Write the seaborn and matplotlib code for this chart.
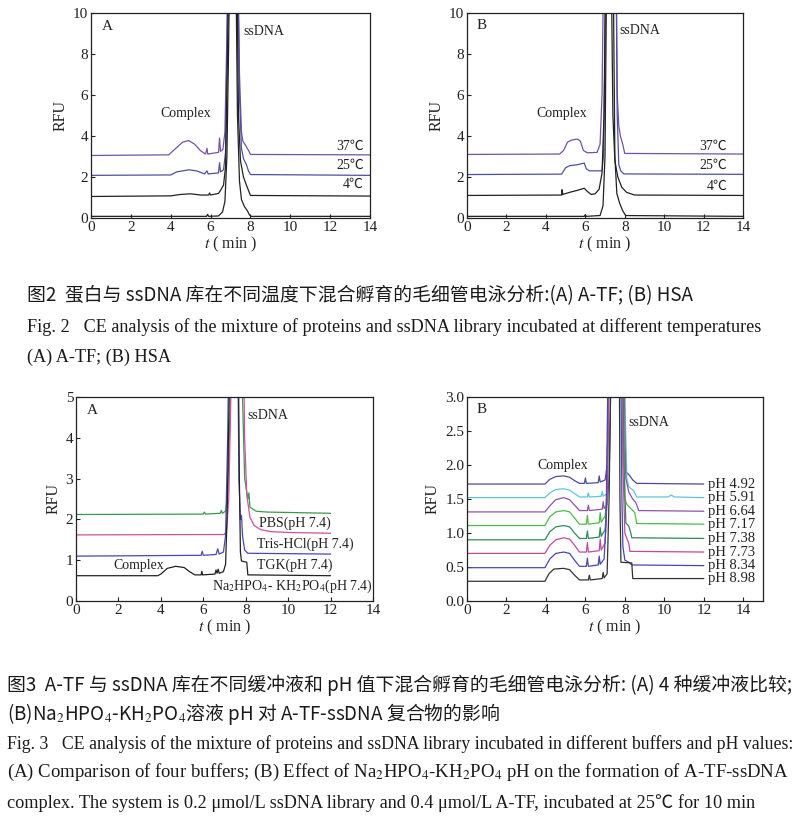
import matplotlib
matplotlib.use('Agg')
import matplotlib.pyplot as plt
import seaborn as sns
import pandas as pd

# ---- Fig.2 A (A-TF), traces as (t, RFU)
fig2a_37 = [(0, 3.05), (3.9, 3.08), (4.2, 3.35), (4.6, 3.7), (4.9, 3.78), (5.2, 3.6), (5.5, 3.28),
            (5.75, 3.12), (5.82, 3.4), (5.86, 3.12), (6.4, 3.2), (6.45, 3.9), (6.5, 3.25), (6.62, 3.35),
            (6.72, 4.2), (6.8, 8.0), (6.9, 14), (7.35, 14), (7.45, 7.0), (7.55, 4.2), (7.62, 3.75),
            (7.75, 3.55), (7.9, 3.3), (8.0, 3.1), (14, 3.08)]
fig2a_25 = [(0, 2.08), (4.0, 2.1), (4.3, 2.25), (4.9, 2.35), (5.3, 2.3), (5.7, 2.15), (5.82, 2.3),
            (5.88, 2.15), (6.4, 2.2), (6.45, 2.7), (6.5, 2.25), (6.65, 2.35), (6.75, 3.2), (6.82, 8),
            (6.92, 14), (7.35, 14), (7.45, 6), (7.55, 3.4), (7.65, 2.9), (7.8, 2.6), (7.9, 2.3),
            (8.0, 2.12), (14, 2.08)]
fig2a_4 = [(0, 1.05), (4.0, 1.08), (4.5, 1.15), (5.0, 1.18), (5.5, 1.12), (5.9, 1.12), (5.95, 1.22),
           (6.0, 1.12), (6.4, 1.2), (6.5, 1.35), (6.65, 1.6), (6.75, 2.5), (6.85, 8), (6.95, 14),
           (7.3, 14), (7.4, 5), (7.5, 2.8), (7.65, 2.0), (7.8, 1.6), (7.9, 1.35), (8.0, 1.1), (14, 1.07)]
fig2a_ctrl = [(0, 0.08), (5.8, 0.08), (5.85, 0.18), (5.9, 0.08), (6.4, 0.1), (6.6, 0.3), (6.72, 0.8),
              (6.82, 3), (6.9, 8), (6.98, 14), (7.25, 14), (7.35, 5), (7.45, 1.8), (7.55, 0.9),
              (7.7, 0.55), (7.85, 0.35), (7.95, 0.15), (8.05, 0.08), (14, 0.08)]

# ---- Fig.2 B (HSA)
fig2b_37 = [(0, 3.1), (4.7, 3.12), (4.9, 3.3), (5.1, 3.7), (5.3, 3.8), (5.6, 3.85), (5.75, 3.75),
            (5.9, 3.3), (6.1, 3.18), (6.6, 3.2), (6.75, 3.6), (6.85, 6), (6.95, 14), (7.55, 14),
            (7.62, 6), (7.7, 4.5), (7.78, 4.0), (7.9, 3.6), (8.0, 3.15), (14, 3.12)]
fig2b_25 = [(0, 2.12), (4.8, 2.14), (5.0, 2.45), (5.2, 2.55), (5.6, 2.6), (5.95, 2.68), (6.05, 2.4),
            (6.2, 2.3), (6.85, 2.3), (6.92, 3), (7.0, 8), (7.05, 14), (7.55, 14), (7.62, 5),
            (7.7, 2.6), (7.8, 2.3), (7.95, 2.15), (14, 2.13)]
fig2b_4 = [(0, 1.1), (4.8, 1.12), (4.82, 1.38), (4.86, 1.15), (5.2, 1.25), (5.6, 1.35), (5.95, 1.45),
           (6.1, 1.3), (6.3, 1.15), (6.5, 1.18), (6.7, 1.4), (6.85, 2.2), (6.95, 5), (7.05, 14),
           (7.3, 14), (7.4, 5), (7.5, 2.8), (7.65, 2.0), (7.85, 1.5), (8.1, 1.25), (8.5, 1.12), (14, 1.1)]
fig2b_ctrl = [(0, 0.08), (5.95, 0.08), (6.0, 0.16), (6.05, 0.08), (6.75, 0.12), (6.9, 0.6), (7.0, 3),
              (7.1, 14), (7.4, 14), (7.5, 3), (7.6, 1.2), (7.75, 0.7), (7.9, 0.35), (8.05, 0.12), (14, 0.08)]
temp_labels = ['37℃', '25℃', '4℃']

# ---- Fig.3 A (buffers)
fig3a_pbs = [(0, 2.12), (6.0, 2.13), (6.05, 2.18), (6.1, 2.13), (6.8, 2.15), (6.85, 2.22), (6.9, 2.15),
             (7.05, 2.2), (7.15, 2.6), (7.28, 5), (7.35, 8), (7.75, 8), (7.85, 5), (7.95, 3.0),
             (8.1, 2.5), (8.15, 2.65), (8.2, 2.3), (8.5, 2.2), (9.0, 2.18), (12, 2.15)]
fig3a_tris = [(0, 1.62), (7.0, 1.63), (7.1, 1.75), (7.2, 2.5), (7.3, 5), (7.4, 8), (7.85, 8), (7.95, 4),
              (8.05, 2.6), (8.2, 2.05), (8.4, 1.85), (8.7, 1.75), (9.2, 1.7), (10, 1.68), (12, 1.66)]
fig3a_tgk = [(0, 1.1), (5.9, 1.12), (5.95, 1.22), (6.0, 1.12), (6.6, 1.14), (6.68, 1.28), (6.75, 1.15),
             (6.95, 1.2), (7.05, 1.6), (7.15, 4), (7.25, 8), (7.6, 8), (7.68, 3), (7.75, 2.0),
             (7.8, 2.1), (7.85, 1.6), (7.95, 1.25), (8.1, 1.17), (12, 1.15)]
fig3a_nap = [(0, 0.62), (3.85, 0.62), (4.0, 0.66), (4.3, 0.8), (4.7, 0.85), (5.1, 0.82), (5.35, 0.72),
             (5.6, 0.64), (5.9, 0.64), (5.93, 0.73), (5.97, 0.64), (6.55, 0.66), (6.6, 0.76), (6.65, 0.68),
             (6.7, 0.78), (6.75, 0.68), (6.95, 0.72), (7.05, 0.9), (7.12, 2.0), (7.22, 5), (7.3, 8),
             (7.62, 8), (7.7, 3), (7.75, 1.2), (7.8, 0.98), (8.05, 0.95), (8.1, 0.64), (12, 0.62)]
buffer_labels = ['PBS(pH 7.4)', 'Tris-HCl(pH 7.4)', 'TGK(pH 7.4)', r'Na$_2$HPO$_4$- KH$_2$PO$_4$(pH 7.4)']

# ---- Fig.3 B (pH series)
ph_labels = ['pH 4.92', 'pH 5.91', 'pH 6.64', 'pH 7.17', 'pH 7.38', 'pH 7.73', 'pH 8.34', 'pH 8.98']
ph_492 = [(0, 1.72), (3.95, 1.72), (4.2, 1.79), (4.5, 1.83), (4.9, 1.84), (5.2, 1.82), (5.45, 1.77),
          (5.7, 1.73), (5.95, 1.73), (6.0, 1.81), (6.05, 1.73), (6.65, 1.74), (6.7, 1.84), (6.75, 1.75),
          (7.0, 1.78), (7.1, 2.0), (7.2, 3.5), (7.3, 5), (7.8, 5), (7.9, 3), (7.98, 2.0), (8.05, 1.9),
          (8.2, 1.86), (8.4, 1.78), (8.6, 1.73), (12, 1.72)]
ph_591 = [(0, 1.52), (3.95, 1.52), (4.2, 1.59), (4.5, 1.64), (4.9, 1.65), (5.2, 1.63), (5.45, 1.58),
          (5.7, 1.53), (6.1, 1.53), (6.15, 1.59), (6.2, 1.53), (6.8, 1.54), (6.85, 1.61), (6.9, 1.54),
          (7.1, 1.58), (7.2, 1.8), (7.3, 3.5), (7.4, 5), (7.9, 5), (8.0, 3), (8.1, 1.8), (8.2, 1.68),
          (8.45, 1.62), (8.6, 1.53), (10.2, 1.53), (10.35, 1.56), (10.5, 1.53), (12, 1.52)]
ph_664 = [(0, 1.31), (3.95, 1.31), (4.2, 1.4), (4.5, 1.49), (4.9, 1.52), (5.2, 1.49), (5.45, 1.41),
          (5.7, 1.33), (6.1, 1.33), (6.15, 1.41), (6.2, 1.33), (6.85, 1.35), (6.9, 1.46), (6.95, 1.36),
          (7.1, 1.42), (7.2, 1.8), (7.3, 3.5), (7.4, 5), (7.9, 5), (8.0, 2.5), (8.05, 1.8), (8.2, 1.6),
          (8.4, 1.5), (8.55, 1.45), (8.7, 1.33), (12, 1.32)]
ph_717 = [(0, 1.11), (3.95, 1.11), (4.2, 1.24), (4.5, 1.31), (4.9, 1.33), (5.2, 1.31), (5.45, 1.22),
          (5.7, 1.13), (6.05, 1.13), (6.1, 1.26), (6.15, 1.13), (6.7, 1.15), (6.75, 1.3), (6.8, 1.16),
          (7.0, 1.25), (7.1, 1.6), (7.2, 3.5), (7.3, 5), (7.85, 5), (7.95, 2.5), (8.0, 1.5), (8.1, 1.42),
          (8.3, 1.36), (8.5, 1.3), (8.6, 1.14), (12, 1.13)]
ph_738 = [(0, 0.9), (3.95, 0.9), (4.2, 1.02), (4.5, 1.09), (4.9, 1.11), (5.2, 1.09), (5.45, 1.0),
          (5.7, 0.92), (6.05, 0.92), (6.1, 1.03), (6.15, 0.92), (6.7, 0.94), (6.75, 1.08), (6.8, 0.95),
          (7.0, 1.05), (7.1, 1.5), (7.2, 3.5), (7.3, 5), (7.85, 5), (7.95, 2.0), (8.05, 1.15), (8.2, 1.1),
          (8.3, 1.0), (8.35, 0.93), (12, 0.92)]
ph_773 = [(0, 0.7), (3.95, 0.7), (4.2, 0.82), (4.5, 0.9), (4.9, 0.93), (5.2, 0.91), (5.45, 0.82),
          (5.7, 0.72), (6.05, 0.72), (6.1, 0.86), (6.15, 0.72), (6.7, 0.74), (6.75, 0.91), (6.8, 0.75),
          (7.0, 0.85), (7.1, 1.5), (7.2, 3.5), (7.3, 5), (7.8, 5), (7.9, 2.0), (8.0, 1.0), (8.1, 0.92),
          (8.2, 0.85), (8.25, 0.73), (12, 0.72)]
ph_834 = [(0, 0.49), (3.95, 0.49), (4.2, 0.62), (4.5, 0.7), (4.9, 0.72), (5.2, 0.7), (5.45, 0.6),
          (5.7, 0.51), (6.05, 0.51), (6.1, 0.63), (6.15, 0.51), (6.65, 0.53), (6.7, 0.66), (6.75, 0.54),
          (6.95, 0.62), (7.05, 1.2), (7.15, 3.5), (7.25, 5), (7.75, 5), (7.85, 1.5), (7.9, 0.8),
          (8.0, 0.6), (8.2, 0.57), (8.35, 0.53), (12, 0.52)]
ph_898 = [(0, 0.29), (3.95, 0.29), (4.15, 0.4), (4.4, 0.47), (4.9, 0.48), (5.2, 0.46), (5.45, 0.38),
          (5.7, 0.31), (6.15, 0.31), (6.2, 0.38), (6.25, 0.31), (6.85, 0.33), (6.9, 0.42), (6.95, 0.34),
          (7.1, 0.4), (7.2, 1.5), (7.3, 3.5), (7.4, 5), (7.7, 5), (7.75, 1.5), (7.8, 0.57), (8.35, 0.56),
          (8.4, 0.33), (12, 0.33)]
ph_traces = [ph_492, ph_591, ph_664, ph_717, ph_738, ph_773, ph_834, ph_898]
ph_colors = ['#4b4b9b', '#5cc6de', '#8e52ad', '#4cbb4c', '#2e8b57', '#c4499c', '#4747b5', '#333333']

sns.set_style('ticks')
plt.rcParams['font.family'] = ['Liberation Serif', 'Noto Sans CJK SC', 'DejaVu Sans']
plt.rcParams['mathtext.fontset'] = 'stix'

W, H = 800, 818
fig = plt.figure(figsize=(W / 100, H / 100), dpi=100)
fig.patch.set_facecolor('white')


def px_axes(x0, y0, x1, y1):
    return fig.add_axes([x0 / W, 1 - y1 / H, (x1 - x0) / W, (y1 - y0) / H])


def draw_traces(ax, traces, colors):
    for pts, c in zip(traces, colors):
        df = pd.DataFrame(pts, columns=['t', 'rfu'])
        sns.lineplot(data=df, x='t', y='rfu', color=c, lw=0.9, ax=ax,
                     sort=False, estimator=None)


def style_axis(ax, xlim, ylim, xticks, yticks, fmt='{:g}'):
    ax.set_xlim(xlim)
    ax.set_ylim(ylim)
    ax.set_xticks(xticks)
    ax.set_yticks(yticks)
    ax.set_yticklabels([fmt.format(v) for v in yticks])
    ax.tick_params(direction='in', length=3, width=0.8, labelsize=11, pad=2,
                   colors='#222222')
    for s in ax.spines.values():
        s.set_visible(True)
        s.set_linewidth(0.9)
        s.set_color('#222222')
    ax.set_xlabel(r'$t$ ( min )', fontsize=11.5, labelpad=1, color='#222222')
    ax.set_ylabel('RFU', fontsize=11.5, labelpad=3, color='#222222')


lab = dict(fontsize=10, color='#222222')

# Fig.2 A
ax = px_axes(91, 13, 370, 218)
draw_traces(ax, [fig2a_37, fig2a_25, fig2a_4, fig2a_ctrl], ['#7452a3', '#4f4fa6', '#222222', '#222222'])
style_axis(ax, (0, 14), (0, 10), range(0, 15, 2), range(0, 11, 2))
ax.text(0.8, 9.35, 'A', ha='center', va='center', fontsize=11, color='#222222')
ax.text(8.65, 9.1, 'ssDNA', ha='center', va='center', **lab)
ax.text(4.75, 5.1, 'Complex', ha='center', va='center', **lab)
for s, yv in zip(temp_labels, [3.5, 2.58, 1.62]):
    ax.text(13.7, yv, s, ha='right', va='center', **lab)

# Fig.2 B
ax = px_axes(467, 13, 743, 218)
draw_traces(ax, [fig2b_37, fig2b_25, fig2b_4, fig2b_ctrl], ['#7452a3', '#4f4fa6', '#222222', '#222222'])
style_axis(ax, (0, 14), (0, 10), range(0, 15, 2), range(0, 11, 2))
ax.text(0.75, 9.4, 'B', ha='center', va='center', fontsize=11, color='#222222')
ax.text(8.75, 9.15, 'ssDNA', ha='center', va='center', **lab)
ax.text(4.8, 5.1, 'Complex', ha='center', va='center', **lab)
for s, yv in zip(temp_labels, [3.5, 2.58, 1.55]):
    ax.text(13.2, yv, s, ha='right', va='center', **lab)

# Fig.3 A
ax = px_axes(76, 397, 373, 601)
draw_traces(ax, [fig3a_pbs, fig3a_tris, fig3a_tgk, fig3a_nap], ['#3a9a4a', '#d050a0', '#4848b8', '#222222'])
style_axis(ax, (0, 14), (0, 5), range(0, 15, 2), range(0, 6))
ax.text(0.78, 4.67, 'A', ha='center', va='center', fontsize=11, color='#222222')
ax.text(9.05, 4.54, 'ssDNA', ha='center', va='center', **lab)
ax.text(2.95, 0.86, 'Complex', ha='center', va='center', **lab)
for s, xv, yv in zip(buffer_labels, [10.3, 10.8, 10.3, 10.2], [1.9, 1.38, 0.88, 0.35]):
    ax.text(xv, yv, s, ha='center', va='center', **lab)

# Fig.3 B
ax = px_axes(467, 397, 763, 601)
draw_traces(ax, ph_traces, ph_colors)
style_axis(ax, (0, 15), (0, 3), range(0, 15, 2), [0, 0.5, 1.0, 1.5, 2.0, 2.5, 3.0], '{:.1f}')
ax.text(0.75, 2.81, 'B', ha='center', va='center', fontsize=11, color='#222222')
ax.text(9.2, 2.62, 'ssDNA', ha='center', va='center', **lab)
ax.text(4.83, 1.99, 'Complex', ha='center', va='center', **lab)
for s, pts in zip(ph_labels, ph_traces):
    ax.text(12.2, pts[-1][1], s, ha='left', va='center', fontsize=10.5, color='#222222')

# ---- captions: justified lines are sized to their width, the others reuse that size
renderer = fig.canvas.get_renderer()
CJK = ['Noto Sans CJK SC', 'DejaVu Sans']
SERIF = ['Liberation Serif', 'Noto Sans CJK SC', 'DejaVu Sans']


def put_text(x0, yc, s, family, size):
    return fig.text(x0 / W, 1 - yc / H, s, fontsize=size, family=family,
                    ha='left', va='center', color='#1a1a1a')


def fit_text(x0, x1, yc, s, family):
    t = put_text(x0, yc, s, family, 10)
    w = t.get_window_extent(renderer=renderer).width
    size = 10 * (x1 - x0) / w
    t.set_fontsize(size)
    return size


cn_size = fit_text(7, 790, 685, '图3  A-TF 与 ssDNA 库在不同缓冲液和 pH 值下混合孵育的毛细管电泳分析: (A) 4 种缓冲液比较;', CJK)
put_text(27, 296, '图2  蛋白与 ssDNA 库在不同温度下混合孵育的毛细管电泳分析:(A) A-TF; (B) HSA', CJK, cn_size)
put_text(7, 714, r'(B)Na$_2$HPO$_4$-KH$_2$PO$_4$溶液 pH 对 A-TF-ssDNA 复合物的影响', CJK, cn_size)

en_size = fit_text(27, 762, 327, 'Fig. 2   CE analysis of the mixture of proteins and ssDNA library incubated at different temperatures', SERIF)
put_text(27, 357, '(A) A-TF; (B) HSA', SERIF, en_size)
fit_text(7, 790, 744, 'Fig. 3   CE analysis of the mixture of proteins and ssDNA library incubated in different buffers and pH values:', SERIF)
fit_text(7, 790, 772, r'(A) Comparison of four buffers; (B) Effect of Na$_2$HPO$_4$-KH$_2$PO$_4$ pH on the formation of A-TF-ssDNA', SERIF)
put_text(7, 803, 'complex. The system is 0.2 μmol/L ssDNA library and 0.4 μmol/L A-TF, incubated at 25℃ for 10 min', SERIF, en_size)

fig.savefig('out.png', dpi=100, facecolor='white')
